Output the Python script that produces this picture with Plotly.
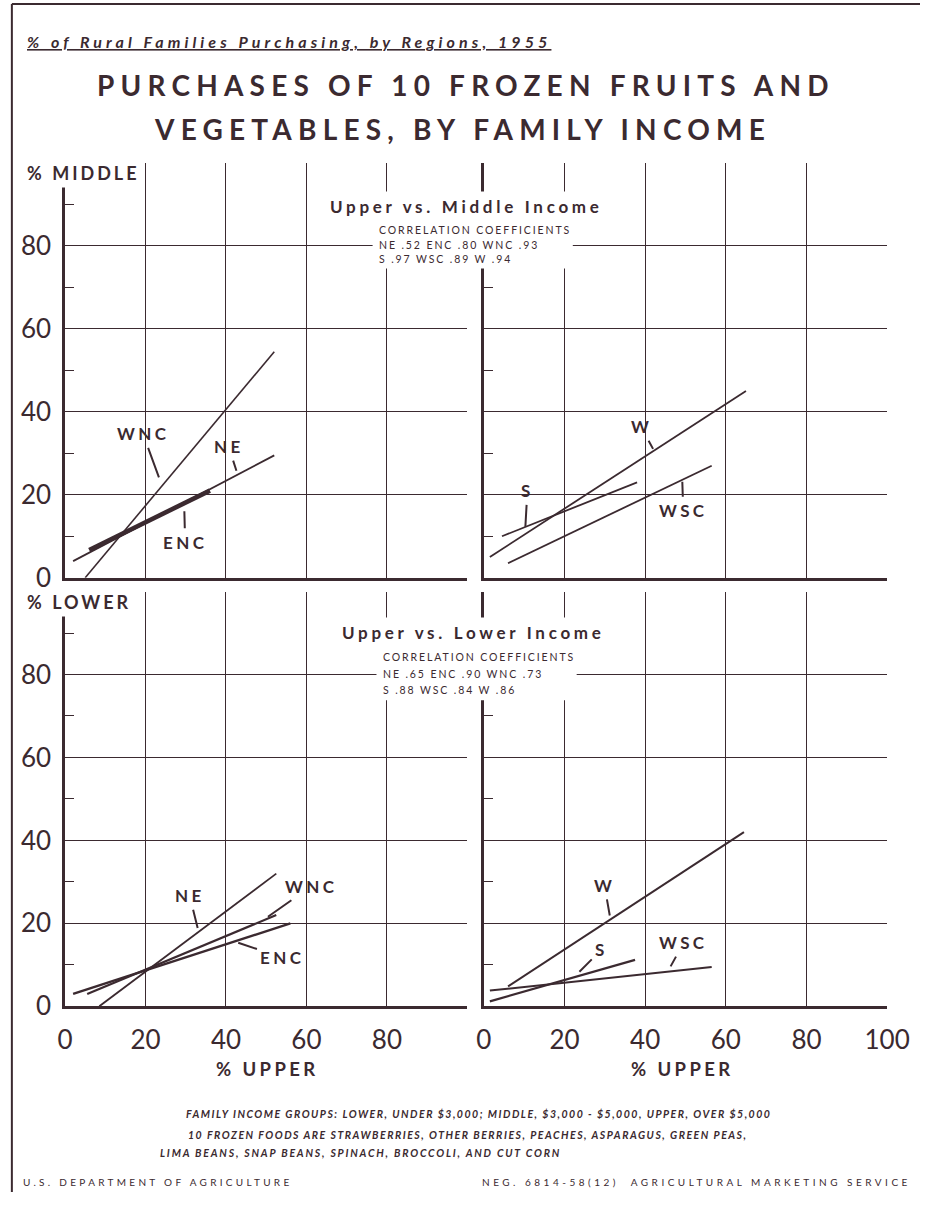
import plotly.graph_objects as go

W, H = 943, 1207
INK = "#3b2a30"
FONT = "Lato, 'Open Sans', sans-serif"

# ---- axis values -------------------------------------------------------
pct_ticks = [0, 20, 40, 60, 80, 100]
pct_ticktext = ["0", "20", "40", "60", "80", ""]
upper_ticktext_left = ["0", "20", "40", "60", "80", ""]
upper_ticktext_right = ["0", "20", "40", "60", "80", "100"]
minor_ticks = [10, 30, 50, 70, 90]

# ---- regression lines: [start, end] in % upper income / % other income ----
# Upper vs. Middle income
mid_regions_a = ["NE", "ENC", "WNC"]
mid_upper_a = [[2, 52], [6, 36], [5, 52]]
mid_middle_a = [[4, 29.5], [6.7, 21], [0, 54.5]]

mid_regions_b = ["S", "WSC", "W"]
mid_upper_b = [[4.5, 38], [6, 56.5], [1.5, 65]]
mid_middle_b = [[10, 23], [3.5, 27], [5, 45]]

# Upper vs. Lower income
low_regions_a = ["NE", "ENC", "WNC"]
low_upper_a = [[8.5, 52.5], [2, 56], [5.5, 52.5]]
low_lower_a = [[0, 32], [3, 20], [3, 22]]

low_regions_b = ["S", "WSC", "W"]
low_upper_b = [[1.5, 37.5], [1.5, 56.5], [6, 64.5]]
low_lower_b = [[1.2, 11.2], [3.8, 9.5], [4.8, 42]]

# correlation coefficients
corr_regions = ["NE", "ENC", "WNC", "S", "WSC", "W"]
mid_corr = [".52", ".80", ".93", ".97", ".89", ".94"]
low_corr = [".65", ".90", ".73", ".88", ".84", ".86"]

# ---- layout helpers ------------------------------------------------------
def px_x(p):
    return p / W


def px_y(p):
    return 1 - p / H


def ls(text, spacing):
    return f'<span style="letter-spacing:{spacing}px">{text}</span>'


X_LEFT = [px_x(59), px_x(475)]
X_RIGHT = [px_x(492), px_x(909)]
Y_TOP = [px_y(585), px_y(165)]
Y_BOT = [px_y(1019), px_y(599)]

# line widths and label leaders (tip position along the line, text offset in px, standoff)
panels = [
    dict(xa="x", ya="y", regions=mid_regions_a, ux=mid_upper_a, vy=mid_middle_a,
         widths=[1.8, 4.6, 1.6],
         leaders=[(42.9, -9, -28, 4), (29.6, 1, 39, 8), (24.1, -19, -52, 9)]),
    dict(xa="x2", ya="y2", regions=mid_regions_b, ux=mid_upper_b, vy=mid_middle_b,
         widths=[1.8, 1.8, 1.8],
         leaders=[(10.3, 2, -36, 0), (49.2, 1, 31, 2), (42.2, -13, -24, 2)]),
    dict(xa="x3", ya="y3", regions=low_regions_a, ux=low_upper_a, vy=low_lower_a,
         widths=[1.8, 2.4, 2.2],
         leaders=[(33.2, -9, -36, 4), (42.1, 48, 16, 4), (48.8, 50, -35, 8)]),
    dict(xa="x4", ya="y4", regions=low_regions_b, ux=low_upper_b, vy=low_lower_b,
         widths=[2.2, 2.0, 2.0],
         leaders=[(22.3, 28, -28, 8), (45.6, 16, -29, 6), (31.4, -6, -34, 4)]),
]

fig = go.Figure()
annotations = []

for p in panels:
    for reg, xs, ys, w, (tx, dx, dy, so) in zip(p["regions"], p["ux"], p["vy"],
                                                  p["widths"], p["leaders"]):
        fig.add_trace(go.Scatter(x=xs, y=ys, mode="lines", name=reg,
                                 xaxis=p["xa"], yaxis=p["ya"],
                                 line=dict(color=INK, width=w),
                                 hoverinfo="skip", showlegend=False))
        ty = ys[0] + (tx - xs[0]) * (ys[1] - ys[0]) / (xs[1] - xs[0])
        annotations.append(dict(
            x=tx, y=ty, xref=p["xa"], yref=p["ya"], ax=dx, ay=dy,
            text=ls(f"<b>{reg}</b>", 3.4), showarrow=True, arrowhead=0,
            arrowwidth=2, arrowcolor=INK, standoff=so, borderpad=3,
            font=dict(family=FONT, size=17, color=INK)))


def xaxis(domain, anchor, ticktext, labels):
    return dict(domain=domain, anchor=anchor, range=[0, 100], tickvals=pct_ticks,
                ticktext=ticktext, showticklabels=labels, ticks="",
                showgrid=True, gridcolor=INK, gridwidth=1.2, zeroline=False,
                showline=True, linecolor=INK, linewidth=2.6,
                tickfont=dict(family=FONT, size=26, color=INK),
                ticklabelstandoff=9, fixedrange=True)


def yaxis(domain, anchor, labels):
    return dict(domain=domain, anchor=anchor, range=[0, 100], tickvals=pct_ticks,
                ticktext=pct_ticktext, showticklabels=labels, ticks="",
                showgrid=True, gridcolor=INK, gridwidth=1.2, zeroline=False,
                showline=True, linecolor=INK, linewidth=2.6,
                minor=dict(tickvals=minor_ticks, ticks="inside", ticklen=9,
                           tickwidth=1.3, tickcolor=INK, showgrid=False),
                tickfont=dict(family=FONT, size=26, color=INK),
                ticklabelstandoff=6, fixedrange=True)


def right_ticks(overlay, anchor):
    return dict(overlaying=overlay, anchor=anchor, side="right", range=[0, 100],
                tickvals=minor_ticks, ticks="inside", ticklen=9, tickwidth=1.3,
                tickcolor=INK, showticklabels=False, showgrid=False,
                zeroline=False, showline=False, fixedrange=True)


layout_axes = dict(
    xaxis=xaxis(X_LEFT, "y", upper_ticktext_left, False),
    yaxis=yaxis(Y_TOP, "x", True),
    xaxis2=xaxis(X_RIGHT, "y2", upper_ticktext_right, False),
    yaxis2=yaxis(Y_TOP, "x2", False),
    xaxis3=xaxis(X_LEFT, "y3", upper_ticktext_left, True),
    yaxis3=yaxis(Y_BOT, "x3", True),
    xaxis4=xaxis(X_RIGHT, "y4", upper_ticktext_right, True),
    yaxis4=yaxis(Y_BOT, "x4", False),
    yaxis5=right_ticks("y", "x"),
    yaxis6=right_ticks("y2", "x2"),
    yaxis7=right_ticks("y3", "x3"),
    yaxis8=right_ticks("y4", "x4"),
)


def text(x, y, s, size, xanchor="center", bold=False, italic=False, spacing=0,
         bg=None, pad=1):
    if bold:
        s = f"<b>{s}</b>"
    if italic:
        s = f"<i>{s}</i>"
    if spacing:
        s = ls(s, spacing)
    d = dict(x=px_x(x), y=px_y(y), xref="paper", yref="paper", text=s,
             showarrow=False, xanchor=xanchor, yanchor="middle",
             font=dict(family=FONT, size=size, color=INK), borderpad=pad)
    if bg:
        d["bgcolor"] = bg
    return d


# headings
annotations += [
    text(18, 42, "<u>% of Rural Families Purchasing, by Regions, 1955</u>", 16,
         xanchor="left", bold=True, italic=True, spacing=4.1),
    text(474, 86, "PURCHASES OF 10 FROZEN FRUITS AND", 28, bold=True, spacing=6.2),
    text(470, 131, "VEGETABLES, BY FAMILY INCOME", 28, bold=True, spacing=6.2),
    text(16, 175, "% MIDDLE", 18, xanchor="left", bold=True, spacing=3,
         bg="white", pad=3),
    text(16, 610, "% LOWER", 18, xanchor="left", bold=True, spacing=3,
         bg="white", pad=3),
    text(268, 1082, "% UPPER", 18.5, bold=True, spacing=3.4, pad=0),
    text(697, 1082, "% UPPER", 18.5, bold=True, spacing=3.4, pad=0),
]

# panel headings and correlation blocks
shapes = []
for title, ty, cx, corr, rows_y, left in [
        ("Upper vs. Middle Income", 209, 474, mid_corr, (233, 248, 262), 382),
        ("Upper vs. Lower Income", 640, 481, low_corr, (665, 682, 699), 386)]:
    annotations.append(text(cx, ty, title, 17, bold=True, spacing=3.7,
                            bg="white", pad=4))
    shapes.append(dict(type="rect", xref="paper", yref="paper",
                       x0=px_x(left - 5), x1=px_x(left + 202),
                       y0=px_y(rows_y[2] + 10), y1=px_y(rows_y[0] - 10),
                       fillcolor="white", line=dict(width=0), layer="above"))
    pairs = [f"{r} {c}" for r, c in zip(corr_regions, corr)]
    rows = ["CORRELATION COEFFICIENTS", " ".join(pairs[:3]), " ".join(pairs[3:])]
    for r, yy in zip(rows, rows_y):
        annotations.append(text(left, yy, r, 10.5, xanchor="left", spacing=1.9))

# footnotes
annotations += [
    text(487, 1128, "FAMILY INCOME GROUPS: LOWER, UNDER $3,000; MIDDLE, $3,000 - $5,000, "
         "UPPER, OVER $5,000", 10.5, bold=True, italic=True, spacing=1.5),
    text(184, 1149, "10 FROZEN FOODS ARE STRAWBERRIES, OTHER BERRIES, PEACHES, "
         "ASPARAGUS, GREEN PEAS,", 10.5, xanchor="left", bold=True, italic=True,
         spacing=1.5),
    text(155, 1168, "LIMA BEANS, SNAP BEANS, SPINACH, BROCCOLI, AND CUT CORN", 10.5,
         xanchor="left", bold=True, italic=True, spacing=1.8),
    text(13, 1197, "U.S. DEPARTMENT OF AGRICULTURE", 10, xanchor="left", spacing=3.3),
    text(936, 1197, "NEG. 6814-58(12)&nbsp;&nbsp;AGRICULTURAL MARKETING SERVICE", 10,
         xanchor="right", spacing=3.5),
]

# page frame
shapes += [
    dict(type="line", xref="paper", yref="paper", x0=px_x(4), x1=px_x(4),
         y0=0, y1=px_y(4), line=dict(color=INK, width=2)),
    dict(type="line", xref="paper", yref="paper", x0=px_x(4), x1=1,
         y0=px_y(4), y1=px_y(4), line=dict(color=INK, width=2)),
]

fig.update_layout(
    width=W, height=H, autosize=False,
    margin=dict(l=0, r=0, t=0, b=0),
    paper_bgcolor="white", plot_bgcolor="white",
    showlegend=False, hovermode=False,
    annotations=annotations, shapes=shapes,
    **layout_axes,
)

fig.write_html("out.html", config={"displayModeBar": False})
